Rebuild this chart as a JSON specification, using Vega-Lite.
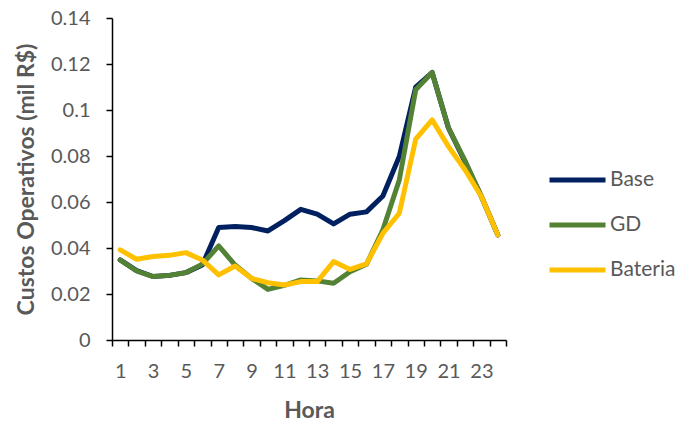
{
  "$schema": "https://vega.github.io/schema/vega-lite/v6.json",
  "width": 394,
  "height": 322,
  "autosize": {"type": "none"},
  "padding": {"left": 112, "top": 18, "right": 171, "bottom": 82},
  "background": "white",
  "config": {"view": {"stroke": null}, "font": "Lato"},
  "data": {"values": [
    {"Hora": 1, "Serie": "Base", "v": 0.0348},
    {"Hora": 2, "Serie": "Base", "v": 0.0302},
    {"Hora": 3, "Serie": "Base", "v": 0.0276},
    {"Hora": 4, "Serie": "Base", "v": 0.0281},
    {"Hora": 5, "Serie": "Base", "v": 0.0293},
    {"Hora": 6, "Serie": "Base", "v": 0.0326},
    {"Hora": 7, "Serie": "Base", "v": 0.0489},
    {"Hora": 8, "Serie": "Base", "v": 0.0493},
    {"Hora": 9, "Serie": "Base", "v": 0.0489},
    {"Hora": 10, "Serie": "Base", "v": 0.0474},
    {"Hora": 11, "Serie": "Base", "v": 0.0519},
    {"Hora": 12, "Serie": "Base", "v": 0.0568},
    {"Hora": 13, "Serie": "Base", "v": 0.0547},
    {"Hora": 14, "Serie": "Base", "v": 0.0505},
    {"Hora": 15, "Serie": "Base", "v": 0.0547},
    {"Hora": 16, "Serie": "Base", "v": 0.0557},
    {"Hora": 17, "Serie": "Base", "v": 0.0626},
    {"Hora": 18, "Serie": "Base", "v": 0.0798},
    {"Hora": 19, "Serie": "Base", "v": 0.1100},
    {"Hora": 20, "Serie": "Base", "v": 0.1163},
    {"Hora": 21, "Serie": "Base", "v": 0.0921},
    {"Hora": 22, "Serie": "Base", "v": 0.0775},
    {"Hora": 23, "Serie": "Base", "v": 0.0624},
    {"Hora": 24, "Serie": "Base", "v": 0.0457},
    {"Hora": 1, "Serie": "GD", "v": 0.0348},
    {"Hora": 2, "Serie": "GD", "v": 0.0300},
    {"Hora": 3, "Serie": "GD", "v": 0.0276},
    {"Hora": 4, "Serie": "GD", "v": 0.0281},
    {"Hora": 5, "Serie": "GD", "v": 0.0293},
    {"Hora": 6, "Serie": "GD", "v": 0.0330},
    {"Hora": 7, "Serie": "GD", "v": 0.0409},
    {"Hora": 8, "Serie": "GD", "v": 0.0326},
    {"Hora": 9, "Serie": "GD", "v": 0.0268},
    {"Hora": 10, "Serie": "GD", "v": 0.0220},
    {"Hora": 11, "Serie": "GD", "v": 0.0238},
    {"Hora": 12, "Serie": "GD", "v": 0.0261},
    {"Hora": 13, "Serie": "GD", "v": 0.0257},
    {"Hora": 14, "Serie": "GD", "v": 0.0247},
    {"Hora": 15, "Serie": "GD", "v": 0.0297},
    {"Hora": 16, "Serie": "GD", "v": 0.0329},
    {"Hora": 17, "Serie": "GD", "v": 0.0479},
    {"Hora": 18, "Serie": "GD", "v": 0.0696},
    {"Hora": 19, "Serie": "GD", "v": 0.1088},
    {"Hora": 20, "Serie": "GD", "v": 0.1163},
    {"Hora": 21, "Serie": "GD", "v": 0.0921},
    {"Hora": 22, "Serie": "GD", "v": 0.0780},
    {"Hora": 23, "Serie": "GD", "v": 0.0624},
    {"Hora": 24, "Serie": "GD", "v": 0.0457},
    {"Hora": 1, "Serie": "Bateria", "v": 0.0392},
    {"Hora": 2, "Serie": "Bateria", "v": 0.0351},
    {"Hora": 3, "Serie": "Bateria", "v": 0.0363},
    {"Hora": 4, "Serie": "Bateria", "v": 0.0368},
    {"Hora": 5, "Serie": "Bateria", "v": 0.0380},
    {"Hora": 6, "Serie": "Bateria", "v": 0.0348},
    {"Hora": 7, "Serie": "Bateria", "v": 0.0283},
    {"Hora": 8, "Serie": "Bateria", "v": 0.0322},
    {"Hora": 9, "Serie": "Bateria", "v": 0.0268},
    {"Hora": 10, "Serie": "Bateria", "v": 0.0249},
    {"Hora": 11, "Serie": "Bateria", "v": 0.0239},
    {"Hora": 12, "Serie": "Bateria", "v": 0.0254},
    {"Hora": 13, "Serie": "Bateria", "v": 0.0254},
    {"Hora": 14, "Serie": "Bateria", "v": 0.0341},
    {"Hora": 15, "Serie": "Bateria", "v": 0.0307},
    {"Hora": 16, "Serie": "Bateria", "v": 0.0331},
    {"Hora": 17, "Serie": "Bateria", "v": 0.0464},
    {"Hora": 18, "Serie": "Bateria", "v": 0.0551},
    {"Hora": 19, "Serie": "Bateria", "v": 0.0873},
    {"Hora": 20, "Serie": "Bateria", "v": 0.0957},
    {"Hora": 21, "Serie": "Bateria", "v": 0.0841},
    {"Hora": 22, "Serie": "Bateria", "v": 0.0740},
    {"Hora": 23, "Serie": "Bateria", "v": 0.0624},
    {"Hora": 24, "Serie": "Bateria", "v": 0.0457}
  ]},
  "mark": {"type": "line", "strokeWidth": 5, "strokeCap": "round", "strokeJoin": "round"},
  "encoding": {
    "x": {
      "field": "Hora", "type": "ordinal",
      "scale": {"paddingInner": 0, "paddingOuter": 0},
      "axis": {
        "title": "Hora", "titleFontSize": 23, "titleFontWeight": "bold", "titleColor": "#595959", "titlePadding": 18,
        "labelAngle": 0, "labelFontSize": 20, "labelColor": "#595959", "labelPadding": 15,
        "labelExpr": "datum.value % 2 == 1 ? datum.label : ''",
        "tickBand": "extent", "tickSize": 6, "tickColor": "black", "tickWidth": 1.5,
        "domainColor": "black", "domainWidth": 1.5, "grid": false
      }
    },
    "y": {
      "field": "v", "type": "quantitative",
      "scale": {"domain": [0, 0.14], "nice": false},
      "axis": {
        "title": "Custos Operativos (mil R$)", "titleFontSize": 23, "titleFontWeight": "bold", "titleColor": "#595959", "titlePadding": 12,
        "values": [0, 0.02, 0.04, 0.06, 0.08, 0.1, 0.12, 0.14], "format": "~g",
        "labelFontSize": 20, "labelColor": "#595959", "labelPadding": 16,
        "tickSize": 6, "tickColor": "black", "tickWidth": 1.5,
        "domainColor": "black", "domainWidth": 1.5, "grid": false
      }
    },
    "color": {
      "field": "Serie", "type": "nominal",
      "scale": {"domain": ["Base", "GD", "Bateria"], "range": ["#002060", "#548235", "#FFC000"]},
      "legend": {
        "title": null, "orient": "none", "legendX": 435, "legendY": 151,
        "symbolType": "stroke", "symbolSize": 3136, "symbolStrokeWidth": 5,
        "clipHeight": 22, "rowPadding": 23,
        "labelFontSize": 21, "labelColor": "#595959", "labelOffset": 2
      }
    }
  }
}
